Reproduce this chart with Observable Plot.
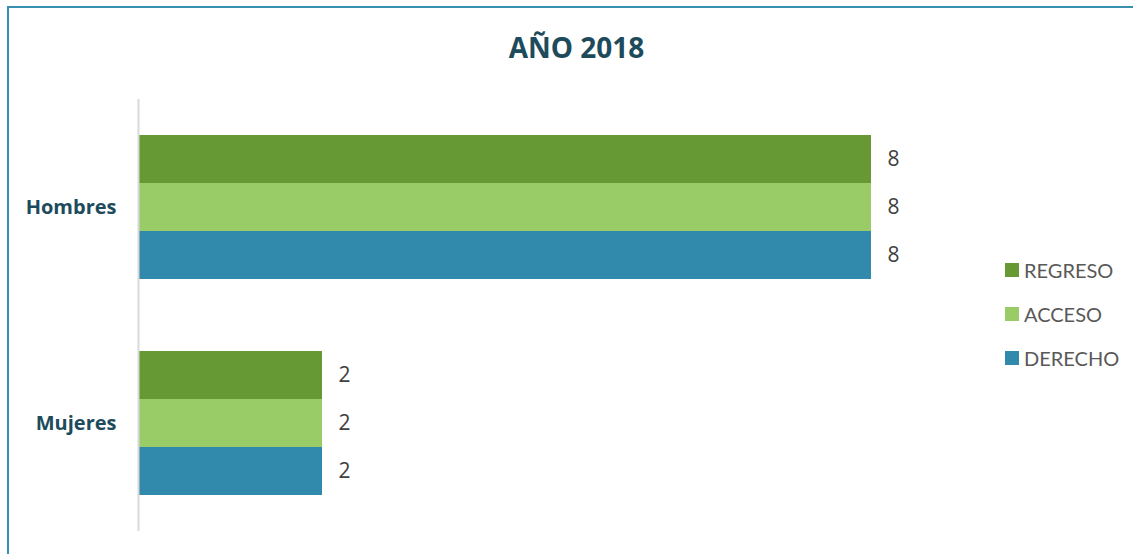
<!DOCTYPE html>
<html>
<head>
<meta charset="utf-8">
<script src="https://cdn.jsdelivr.net/npm/d3@7"></script>
<script src="https://cdn.jsdelivr.net/npm/@observablehq/plot@0.6"></script>
<style>
  html, body { margin: 0; padding: 0; background: #fff; }
  #wrap { position: relative; width: 1133px; height: 554px; overflow: hidden; font-family: Lato, "Open Sans", sans-serif; }
  #frame { position: absolute; left: 7px; top: 6px; width: 1200px; height: 700px; border-top: 2px solid #3790b2; border-left: 2px solid #3790b2; }
  #title { position: absolute; left: 0; width: 1153px; top: 28px; text-align: center; font-weight: 700; font-size: 28px; color: #1d4b5c; font-family: "Open Sans", Lato, sans-serif; }
  #chart { position: absolute; left: 0; top: 0; }
  #legend { position: absolute; left: 1005px; top: 248px; }
  .sw { display: flex; align-items: center; height: 44px; font-size: 20px; color: #595959; }
  .sw span.box { width: 14px; height: 14px; margin-right: 5px; display: inline-block; }
</style>
</head>
<body>
<div id="wrap">
  <div id="frame"></div>
  <div id="title"></div>
  <div id="chart"></div>
  <div id="legend"></div>
</div>
<script>
const title = "AÑO 2018";
const categories = ["Hombres", "Mujeres"];
const series = ["REGRESO", "ACCESO", "DERECHO"];
const colors = ["#669933", "#99cc66", "#318aab"];
const regreso = [8, 2];
const acceso = [8, 2];
const derecho = [8, 2];

const valuesBySeries = [regreso, acceso, derecho];
const data = [];
categories.forEach((c, i) => {
  series.forEach((s, j) => data.push({category: c, series: s, value: valuesBySeries[j][i]}));
});

document.getElementById("title").textContent = title;

const chart = Plot.plot({
  width: 1133,
  height: 554,
  marginLeft: 139,
  marginRight: 262,
  marginTop: 99,
  marginBottom: 23,
  style: {fontFamily: "'Open Sans', Lato, sans-serif", background: "transparent"},
  x: {domain: [0, 8], axis: null},
  fy: {domain: categories, padding: 0, label: null},
  y: {domain: series, padding: 0, paddingOuter: 0.75, axis: null},
  color: {domain: series, range: colors},
  marks: [
    Plot.axisFy({anchor: "left", tickSize: 0, tickPadding: 23, fontSize: 20, fontWeight: 700, fill: "#1d4b5c", label: null}),
    Plot.barX(data, {fy: "category", y: "series", x: "value", fill: "series"}),
    Plot.text(data, {fy: "category", y: "series", x: "value", text: d => String(d.value), dx: 16, textAnchor: "start", fontSize: 21, fill: "#404040"}),
    Plot.ruleX([0], {stroke: "#d9d9d9", strokeWidth: 2, dx: -1})
  ]
});
document.getElementById("chart").appendChild(chart);

const legend = document.getElementById("legend");
series.forEach((s, j) => {
  const row = document.createElement("div");
  row.className = "sw";
  const box = document.createElement("span");
  box.className = "box";
  box.style.background = colors[j];
  row.appendChild(box);
  row.appendChild(document.createTextNode(s));
  legend.appendChild(row);
});
</script>
</body>
</html>
